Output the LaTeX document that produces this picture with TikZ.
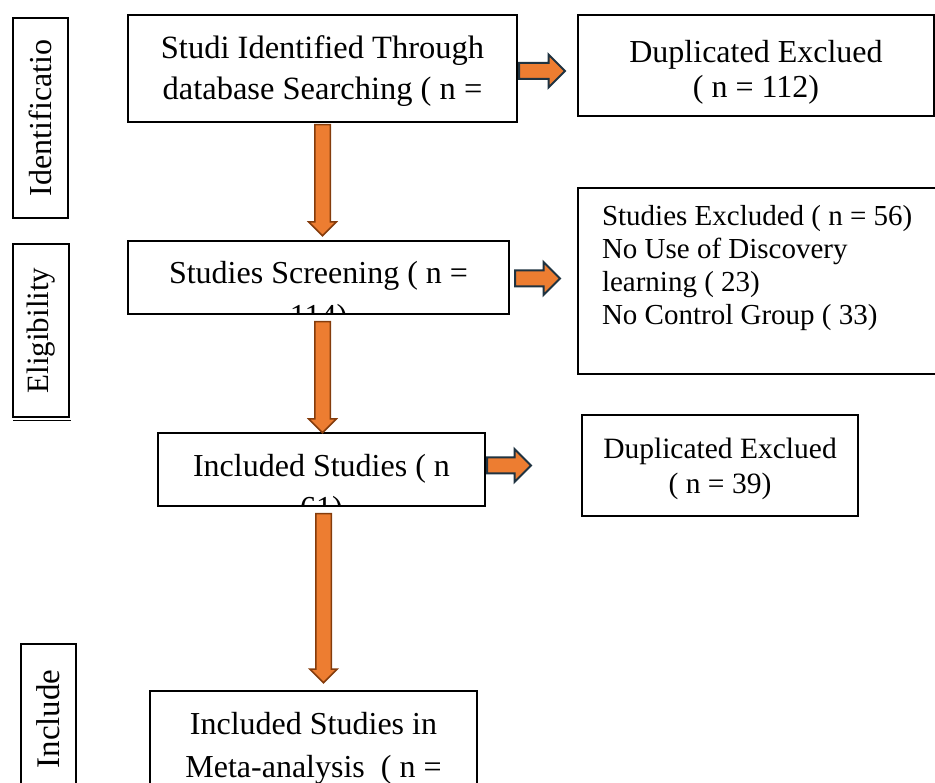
\documentclass[tikz,border=0pt]{standalone}
\usepackage{fontspec}
\setmainfont{Liberation Serif}
\usetikzlibrary{shapes.arrows, positioning, calc}
\definecolor{arroworange}{HTML}{ED7D31}
\definecolor{arrowbrown}{HTML}{843C0C}
\definecolor{arrownavy}{HTML}{1F3341}
\tikzset{
   flowbox/.style={draw, line width=2pt, inner sep=0pt, anchor=north west},
   sidebox/.style={draw, line width=2pt, inner sep=0pt, anchor=north west},
   boxtext/.style={draw=none, minimum width=0pt, minimum height=0pt, align=center,
      inner sep=0pt, anchor=north},
   sidetext/.style={rotate=90, inner sep=0pt},
   downarrow/.style={single arrow, draw=arrowbrown, fill=arroworange, line width=1.5pt,
      shape border rotate=270, inner sep=7pt, minimum width=0pt,
      single arrow head extend=6pt, anchor=tail},
   rightarrow/.style={single arrow, draw=arrownavy, fill=arroworange, line width=2pt,
      inner sep=7pt, minimum width=0pt, single arrow head extend=8.5pt, anchor=tail}
}
\begin{document}
\begin{tikzpicture}[x=1pt, y=-1pt]
   \useasboundingbox (0,0) rectangle (935,783);
   \clip (0,0) rectangle (935,783);
   % stage labels
   \node[sidebox, minimum width=55, minimum height=200] (sideident) at (12,17) {};
   \node[sidetext, font=\fontsize{32}{32}\selectfont] at (sideident.center) {Identificatio};
   \node[sidebox, minimum width=56, minimum height=173] (sideelig) at (12,243) {};
   \draw[line width=1pt] ([xshift=1,yshift=-3]sideelig.south west) -- ([xshift=1,yshift=-3]sideelig.south east);
   \node[sidetext, font=\fontsize{31}{31}\selectfont] at (sideelig.center) {Eligibility};
   \node[sidebox, minimum width=55, minimum height=150] (sideincl) at (20,643) {};
   \node[sidetext, font=\fontsize{33}{33}\selectfont] at (sideincl.center) {Include};
   % main boxes
   \node[flowbox, minimum width=389, minimum height=107,
      path picture={\node[boxtext, font=\fontsize{32.5}{41}\selectfont]
         at ([yshift=-20pt]path picture bounding box.north)
         {Studi Identified Through\\database Searching ( n =};}] (ident) at (127,14) {};
   \node[flowbox, minimum width=356, minimum height=101,
      path picture={\node[boxtext, font=\fontsize{32}{35}\selectfont]
         at ([yshift=-24pt]path picture bounding box.north)
         {Duplicated Exclued\\( n = 112)};}] (dupone) at (577,14) {};
   \node[flowbox, minimum width=381, minimum height=73,
      path picture={\node[boxtext, font=\fontsize{32}{43}\selectfont]
         at ([yshift=-19pt]path picture bounding box.north)
         {Studies Screening ( n =\\114)};}] (screen) at (127,240) {};
   \node[flowbox, minimum width=358, minimum height=186,
      path picture={\node[boxtext, anchor=north west, align=left,
         font=\fontsize{29}{33}\selectfont]
         at ([xshift=23pt,yshift=-16pt]path picture bounding box.north west)
         {Studies Excluded ( n = 56)\\No Use of Discovery\\learning ( 23)\\No Control Group ( 33)};}] (excl) at (577,187) {};
   \node[flowbox, minimum width=327, minimum height=73,
      path picture={\node[boxtext, font=\fontsize{32}{42}\selectfont]
         at ([yshift=-20pt]path picture bounding box.north)
         {Included Studies ( n\\61)};}] (incl) at (157,432) {};
   \node[flowbox, minimum width=276, minimum height=101,
      path picture={\node[boxtext, font=\fontsize{29.5}{35}\selectfont]
         at ([yshift=-22pt]path picture bounding box.north)
         {Duplicated Exclued\\( n = 39)};}] (duptwo) at (581,414) {};
   \node[flowbox, minimum width=327, minimum height=110,
      path picture={\node[boxtext, font=\fontsize{32}{43}\selectfont]
         at ([yshift=-20pt]path picture bounding box.north)
         {Included Studies in\\Meta-analysis~ ( n =};}] (meta) at (149,690) {};
   % arrows
   \node[downarrow, minimum height=111] (arrowone) at ([yshift=-1pt]ident.south) {};
   \node[downarrow, minimum height=111] (arrowtwo) at ([xshift=4pt,yshift=-6pt]screen.south) {};
   \node[downarrow, minimum height=169] (arrowthree) at ([xshift=2pt,yshift=-6pt]incl.south) {};
   \node[rightarrow, minimum height=46] (sideone) at ([yshift=-2.5pt]ident.east) {};
   \node[rightarrow, minimum height=45] (sidetwo) at ([xshift=4pt,yshift=-1pt]screen.east) {};
   \node[rightarrow, minimum height=44] (sidethree) at ([yshift=4pt]incl.east) {};
\end{tikzpicture}
\end{document}
